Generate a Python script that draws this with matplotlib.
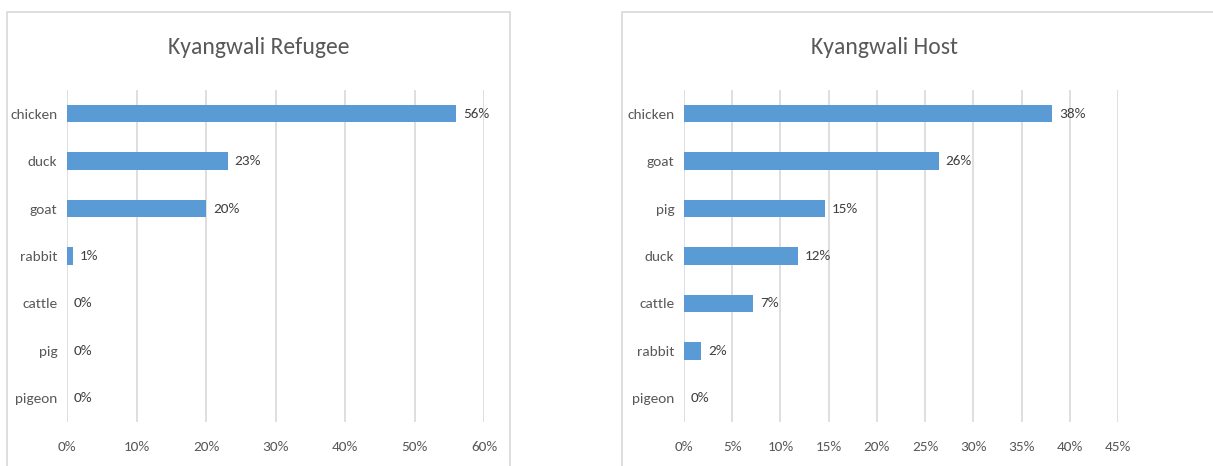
import matplotlib
matplotlib.use("Agg")
import matplotlib.pyplot as plt
from matplotlib.patches import Rectangle
from matplotlib.ticker import PercentFormatter

# share of households keeping each animal (%)
refugee_animals = ["chicken", "duck", "goat", "rabbit", "cattle", "pig", "pigeon"]
refugee_share = [56.0, 23.1, 20.0, 0.8, 0.0, 0.0, 0.0]
refugee_ticks = [0, 10, 20, 30, 40, 50, 60]

host_animals = ["chicken", "goat", "pig", "duck", "cattle", "rabbit", "pigeon"]
host_share = [38.2, 26.4, 14.6, 11.8, 7.2, 1.8, 0.0]
host_ticks = [0, 5, 10, 15, 20, 25, 30, 35, 40, 45]

bar_color = "#5B9BD5"
grid_color = "#D9D9D9"
text_color = "#595959"

plt.rcParams["font.family"] = ["Carlito", "Lato", "DejaVu Sans"]

fig = plt.figure(figsize=(12.13, 4.66), dpi=100)
W, H = 1213, 466

# chart area frames
fig.patches.append(Rectangle((7 / W, -0.05), 503 / W, 1.05 - 12 / H, transform=fig.transFigure,
                             facecolor="none", edgecolor=grid_color, linewidth=1.2, zorder=0))
fig.patches.append(Rectangle((622 / W, -0.05), 0.6, 1.05 - 12 / H, transform=fig.transFigure,
                             facecolor="none", edgecolor=grid_color, linewidth=1.2, zorder=0))


def draw_panel(rect, title, title_x, animals, share, ticks):
    ax = fig.add_axes(rect)
    ax.set_facecolor("none")
    y = list(range(len(animals)))
    ax.barh(y, share, height=0.37, color=bar_color, zorder=3)
    for yi, v in zip(y, share):
        ax.annotate(f"{v:.0f}%", (v, yi), xytext=(5, 0), textcoords="offset points",
                    va="center", ha="left", fontsize=11, color="#404040")
    ax.set_yticks(y)
    ax.set_yticklabels(animals)
    ax.set_ylim(len(animals) - 0.5, -0.5)
    ax.set_xlim(ticks[0], ticks[-1])
    ax.set_xticks(ticks)
    ax.xaxis.set_major_formatter(PercentFormatter(decimals=0))
    ax.grid(axis="x", color=grid_color, linewidth=1.2, zorder=0)
    for s in ax.spines.values():
        s.set_visible(False)
    ax.tick_params(axis="both", length=0, labelsize=11, colors=text_color)
    ax.tick_params(axis="y", pad=7)
    ax.tick_params(axis="x", pad=14)
    fig.text(title_x / W, 1 - 48 / H, title, ha="center", va="center",
             fontsize=17, color=text_color)
    return ax


bottom = 1 - 422 / H
height = 332 / H
draw_panel([67 / W, bottom, 417 / W, height], "Kyangwali Refugee", 259,
           refugee_animals, refugee_share, refugee_ticks)
draw_panel([684 / W, bottom, 434 / W, height], "Kyangwali Host", 884,
           host_animals, host_share, host_ticks)

fig.savefig("out.png", dpi=100)
